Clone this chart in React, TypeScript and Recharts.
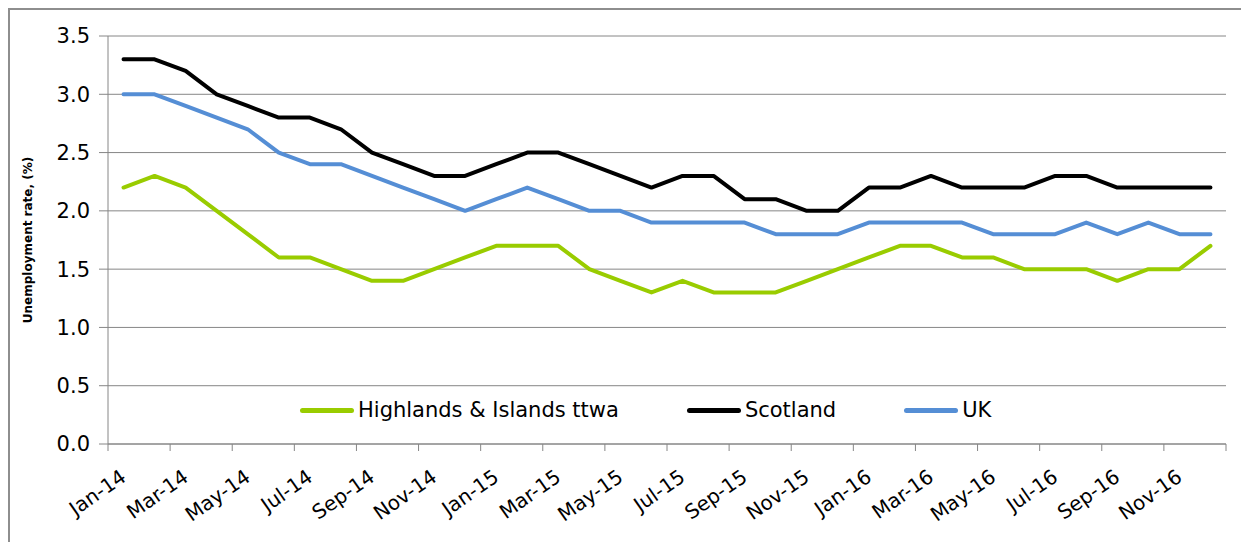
import { LineChart, Line, XAxis, YAxis, CartesianGrid, Legend } from 'recharts';

const months = [
  'Jan-14', 'Feb-14', 'Mar-14', 'Apr-14', 'May-14', 'Jun-14', 'Jul-14', 'Aug-14', 'Sep-14', 'Oct-14', 'Nov-14', 'Dec-14',
  'Jan-15', 'Feb-15', 'Mar-15', 'Apr-15', 'May-15', 'Jun-15', 'Jul-15', 'Aug-15', 'Sep-15', 'Oct-15', 'Nov-15', 'Dec-15',
  'Jan-16', 'Feb-16', 'Mar-16', 'Apr-16', 'May-16', 'Jun-16', 'Jul-16', 'Aug-16', 'Sep-16', 'Oct-16', 'Nov-16', 'Dec-16',
];

const highlands = [
  2.2, 2.3, 2.2, 2.0, 1.8, 1.6, 1.6, 1.5, 1.4, 1.4, 1.5, 1.6,
  1.7, 1.7, 1.7, 1.5, 1.4, 1.3, 1.4, 1.3, 1.3, 1.3, 1.4, 1.5,
  1.6, 1.7, 1.7, 1.6, 1.6, 1.5, 1.5, 1.5, 1.4, 1.5, 1.5, 1.7,
];
const scotland = [
  3.3, 3.3, 3.2, 3.0, 2.9, 2.8, 2.8, 2.7, 2.5, 2.4, 2.3, 2.3,
  2.4, 2.5, 2.5, 2.4, 2.3, 2.2, 2.3, 2.3, 2.1, 2.1, 2.0, 2.0,
  2.2, 2.2, 2.3, 2.2, 2.2, 2.2, 2.3, 2.3, 2.2, 2.2, 2.2, 2.2,
];
const uk = [
  3.0, 3.0, 2.9, 2.8, 2.7, 2.5, 2.4, 2.4, 2.3, 2.2, 2.1, 2.0,
  2.1, 2.2, 2.1, 2.0, 2.0, 1.9, 1.9, 1.9, 1.9, 1.8, 1.8, 1.8,
  1.9, 1.9, 1.9, 1.9, 1.8, 1.8, 1.8, 1.9, 1.8, 1.9, 1.8, 1.8,
];
const yTicks = [0, 0.5, 1.0, 1.5, 2.0, 2.5, 3.0, 3.5];

const series = [
  { key: 'highlands', name: 'Highlands & Islands ttwa', color: '#99cc00' },
  { key: 'scotland', name: 'Scotland', color: '#000000' },
  { key: 'uk', name: 'UK', color: '#558ed5' },
];

const data = months.map((m, i) => ({
  month: m,
  highlands: highlands[i],
  scotland: scotland[i],
  uk: uk[i],
}));

const W = 1239;
const H = 532;
const M = { top: 26, right: 23, left: 0, bottom: 38 };
const Y_W = 98;
const X_H = 60;
const PLOT_W = W - M.left - M.right - Y_W;
const BAND = PLOT_W / months.length;
const GRID = '#868686';
const FONT = "'DejaVu Sans', sans-serif";

function XTick(props: any) {
  const { x, y, index, payload } = props;
  const half = BAND / 2;
  const even = index % 2 === 0;
  const ax = x + 4;
  const ay = y + 36;
  return (
    <g>
      {even && <line x1={x - half} x2={x - half} y1={y} y2={y + 7} stroke={GRID} />}
      {index === months.length - 1 && <line x1={x + half} x2={x + half} y1={y} y2={y + 7} stroke={GRID} />}
      {even && (
        <text
          x={ax}
          y={ay}
          textAnchor="end"
          fontSize={20}
          fontFamily={FONT}
          fill="#000"
          transform={`rotate(-35, ${ax}, ${ay})`}
        >
          {payload.value}
        </text>
      )}
    </g>
  );
}

function LegendBox() {
  return (
    <div style={{ display: 'flex', alignItems: 'center', fontFamily: FONT, fontSize: 21, color: '#000' }}>
      {series.map((s) => (
        <div key={s.key} style={{ display: 'flex', alignItems: 'center', marginRight: 68 }}>
          <span style={{ display: 'inline-block', width: 54, height: 5, borderRadius: 3, background: s.color, marginRight: 4 }} />
          <span style={{ whiteSpace: 'nowrap' }}>{s.name}</span>
        </div>
      ))}
    </div>
  );
}

export default function App() {
  return (
    <div
      style={{
        width: W + 2,
        height: H + 2,
        borderTop: '2px solid #8e8e8e',
        borderLeft: '2px solid #8e8e8e',
        boxSizing: 'border-box',
        background: '#fff',
      }}
    >
      <LineChart width={W} height={H} data={data} margin={M} style={{ fontFamily: FONT }}>
        <CartesianGrid horizontal vertical={false} stroke={GRID} />
        <XAxis
          dataKey="month"
          height={X_H}
          interval={0}
          padding={{ left: BAND / 2, right: BAND / 2 }}
          tickSize={0}
          tickMargin={0}
          tickLine={false}
          axisLine={{ stroke: GRID }}
          tick={<XTick />}
        />
        <YAxis
          width={Y_W}
          domain={[0, 3.5]}
          ticks={yTicks}
          interval={0}
          tickFormatter={(v: number) => v.toFixed(1)}
          tickSize={9}
          tickMargin={9}
          tickLine={{ stroke: GRID }}
          axisLine={{ stroke: GRID }}
          tick={{ fontSize: 21, fill: '#000', fontFamily: FONT }}
          label={{
            value: 'Unemployment rate, (%)',
            angle: -90,
            position: 'insideLeft',
            offset: 18,
            style: { textAnchor: 'middle', fontSize: 12, fontWeight: 'bold', fill: '#000', fontFamily: FONT },
          }}
        />
        <YAxis
          yAxisId="frame"
          orientation="right"
          width={0}
          tick={false}
          tickLine={false}
          axisLine={{ stroke: GRID }}
        />
        <Legend
          layout="horizontal"
          verticalAlign="middle"
          align="center"
          content={<LegendBox />}
          wrapperStyle={{ position: 'absolute', top: 388, left: 290, width: 'auto' }}
        />
        {series.map((s) => (
          <Line
            key={s.key}
            type="linear"
            dataKey={s.key}
            name={s.name}
            stroke={s.color}
            strokeWidth={4}
            strokeLinejoin="round"
            strokeLinecap="round"
            dot={false}
            activeDot={false}
            isAnimationActive={false}
          />
        ))}
      </LineChart>
    </div>
  );
}
